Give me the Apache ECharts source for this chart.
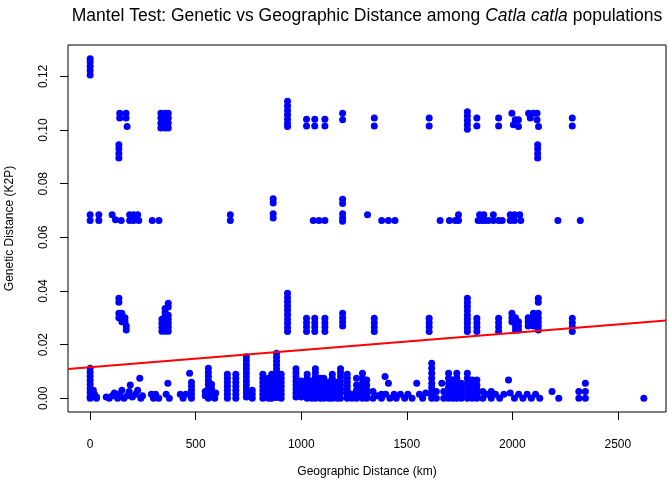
<!DOCTYPE html>
<html>
<head>
<meta charset="utf-8">
<script src="https://cdn.jsdelivr.net/npm/echarts@6/dist/echarts.min.js"></script>
<style>
  html, body { margin: 0; padding: 0; background: #fff; }
  #chart { width: 669px; height: 484px; }
</style>
</head>
<body>
<div id="chart"></div>
<script>
// pairwise distances: [geographic km, genetic K2P]
const topBand = [
  [0, 0.1205], [0, 0.1222], [0, 0.1238], [0, 0.1254], [0, 0.1266]
];

const band10 = [
  [140, 0.1063], [140, 0.1045], [170, 0.1063], [170, 0.1045], [175, 0.1013],
  [136, 0.0945], [136, 0.093], [136, 0.0913], [136, 0.0896],
  [335, 0.1063], [335, 0.1045], [335, 0.1025], [335, 0.1008],
  [355, 0.1063], [355, 0.1045], [355, 0.1025], [355, 0.1008],
  [370, 0.1063], [370, 0.1045], [370, 0.1025], [370, 0.1008],
  [935, 0.1107], [935, 0.109], [935, 0.1073], [935, 0.1057], [935, 0.104], [935, 0.1024], [935, 0.1013],
  [1025, 0.104], [1025, 0.1015], [1064, 0.104], [1064, 0.1015], [1112, 0.104], [1112, 0.1015],
  [1196, 0.1063], [1196, 0.1038],
  [1346, 0.1045], [1346, 0.1015],
  [1606, 0.1045], [1606, 0.1015],
  [1787, 0.1068], [1787, 0.1052], [1787, 0.1036], [1787, 0.102], [1787, 0.1003],
  [1832, 0.1045], [1832, 0.1015],
  [1935, 0.1045], [1935, 0.1015],
  [1998, 0.1063], [2014, 0.1038], [2029, 0.1038], [2005, 0.102], [2029, 0.1013],
  [2077, 0.1063], [2085, 0.1045], [2100, 0.1063], [2117, 0.1063], [2117, 0.1038], [2124, 0.1013],
  [2120, 0.0945], [2120, 0.093], [2120, 0.0913], [2120, 0.0896],
  [2284, 0.1045], [2284, 0.1015]
];

const band07 = [
  [0, 0.0684], [0, 0.0663], [41, 0.0684], [41, 0.0663],
  [104, 0.0684], [120, 0.0666], [147, 0.0663],
  [187, 0.0684], [187, 0.0663], [205, 0.0684], [205, 0.0663], [225, 0.0684], [230, 0.0663],
  [294, 0.0663], [326, 0.0663],
  [664, 0.0684], [664, 0.0663],
  [867, 0.0744], [867, 0.0728], [867, 0.0688], [867, 0.0672],
  [1057, 0.0663], [1084, 0.0663], [1112, 0.0663],
  [1196, 0.0742], [1196, 0.0726], [1196, 0.0688], [1196, 0.0672], [1196, 0.066],
  [1314, 0.0684],
  [1381, 0.0663], [1413, 0.0663], [1444, 0.0663],
  [1658, 0.0663],
  [1702, 0.0663], [1730, 0.0663], [1745, 0.0684], [1745, 0.0663],
  [1838, 0.0663], [1845, 0.0684], [1855, 0.0663], [1865, 0.0684], [1870, 0.0663], [1886, 0.0663],
  [1910, 0.0684], [1910, 0.0663], [1935, 0.0663], [1952, 0.0663],
  [1990, 0.0684], [1990, 0.0663], [2010, 0.0684], [2010, 0.0663], [2035, 0.0684], [2040, 0.0663],
  [2216, 0.0663], [2322, 0.0663]
];

const band03 = [
  [136, 0.0373], [136, 0.0358], [136, 0.0317], [136, 0.030], [150, 0.0317], [150, 0.030], [150, 0.0285],
  [165, 0.030], [165, 0.0285], [171, 0.027], [171, 0.0255],
  [340, 0.0295], [340, 0.028], [340, 0.0265], [340, 0.025],
  [355, 0.0335], [355, 0.032], [355, 0.0305], [355, 0.029], [355, 0.0275], [355, 0.026], [355, 0.025],
  [370, 0.0354], [370, 0.034], [370, 0.031], [370, 0.0295], [370, 0.028], [370, 0.0265], [370, 0.025],
  [935, 0.0392], [935, 0.0376], [935, 0.036], [935, 0.0344], [935, 0.0328], [935, 0.0312],
  [935, 0.0296], [935, 0.028], [935, 0.0264], [935, 0.0249],
  [1025, 0.0298], [1025, 0.0282], [1025, 0.0266], [1025, 0.0249],
  [1064, 0.0298], [1064, 0.0282], [1064, 0.0266], [1064, 0.0249],
  [1112, 0.0298], [1112, 0.0282], [1112, 0.0266], [1112, 0.0249],
  [1196, 0.0317], [1196, 0.030], [1196, 0.0285], [1196, 0.027],
  [1346, 0.0298], [1346, 0.0282], [1346, 0.0266], [1346, 0.0249],
  [1606, 0.0298], [1606, 0.0282], [1606, 0.0266], [1606, 0.0249],
  [1787, 0.0373], [1787, 0.0357], [1787, 0.0342], [1787, 0.0326], [1787, 0.031],
  [1787, 0.0295], [1787, 0.028], [1787, 0.0264], [1787, 0.0249],
  [1832, 0.0298], [1832, 0.0282], [1832, 0.0266], [1832, 0.0249],
  [1935, 0.0298], [1935, 0.0282], [1935, 0.0266], [1935, 0.0249],
  [1998, 0.0317], [1998, 0.030], [1998, 0.0285], [2015, 0.030], [2015, 0.0285], [2015, 0.027], [2015, 0.0255],
  [2029, 0.0285], [2029, 0.027], [2029, 0.0255],
  [2075, 0.030], [2075, 0.0285], [2075, 0.027], [2100, 0.0317], [2100, 0.030], [2100, 0.0285], [2100, 0.027],
  [2123, 0.0373], [2123, 0.0358], [2123, 0.0317], [2123, 0.030], [2123, 0.0285], [2123, 0.027], [2123, 0.0255],
  [2284, 0.0298], [2284, 0.0282], [2284, 0.0266], [2284, 0.0249]
];

const band00 = [
  [0, 0.0112], [0, 0.0097], [0, 0.0082], [0, 0.0067], [0, 0.0052], [0, 0.0037], [0, 0.0022], [0, 0.0007], [0, 0],
  [15, 0.003], [20, 0.0015], [30, 0.0005], [30, 0],
  [76, 0.0005], [90, 0], [105, 0.001], [115, 0.002], [130, 0], [140, 0.0015], [150, 0.003], [160, 0],
  [175, 0.001], [185, 0.0025], [190, 0.005], [200, 0.0005], [215, 0.0015], [225, 0.003], [235, 0.0075],
  [240, 0], [248, 0.001],
  [290, 0.0015], [300, 0], [310, 0.0015], [325, 0], [368, 0.0056], [360, 0.0015], [375, 0],
  [427, 0.0015], [440, 0], [453, 0.0015], [471, 0.0093],
  [480, 0.006], [480, 0.0045], [480, 0.003], [480, 0.0015], [480, 0],
  [545, 0.001], [545, 0.0025],
  [560, 0.0112], [560, 0.0097], [560, 0.0082], [560, 0.0067], [560, 0.0052], [560, 0.0037], [560, 0.0022], [560, 0],
  [575, 0.0052], [575, 0.0037], [580, 0.0015], [595, 0.002], [590, 0],
  [650, 0.009], [650, 0.0075], [650, 0.006], [650, 0.0045], [650, 0.003], [650, 0.0015], [650, 0],
  [690, 0.009], [690, 0.0075], [690, 0.006], [690, 0.0045], [690, 0.003], [690, 0.0015], [690, 0],
  [740, 0.0155], [740, 0.014], [740, 0.0125], [740, 0.011], [740, 0.0095], [740, 0.008],
  [740, 0.0065], [740, 0.005], [740, 0.0035], [740, 0.002], [740, 0.0005],
  [768, 0.003], [768, 0.0015], [768, 0],
  [818, 0.009], [818, 0.0075], [818, 0.006], [818, 0.0045], [818, 0.003], [818, 0.0015], [818, 0],
  [845, 0.0075], [845, 0.006], [845, 0.0045], [845, 0.003], [845, 0.0015], [845, 0],
  [860, 0.009], [860, 0.0075], [860, 0.006], [860, 0.0045], [860, 0.003], [860, 0.0015], [860, 0],
  [883, 0.0168], [883, 0.0153], [883, 0.0138], [883, 0.0123], [883, 0.0108], [883, 0.0093],
  [883, 0.0078], [883, 0.0063], [883, 0.0048], [883, 0.0033], [883, 0.0018], [883, 0.0003],
  [905, 0.009], [905, 0.0075], [905, 0.006], [905, 0.0045], [905, 0.003], [905, 0.0015], [905, 0],
  [975, 0.011], [975, 0.0095], [975, 0.008], [975, 0.0065], [975, 0.005], [975, 0.0035], [975, 0.002], [975, 0.0005],
  [1000, 0.0065], [1000, 0.005], [1000, 0.0035], [1000, 0.002], [1000, 0.0005],
  [1028, 0.009], [1028, 0.0075], [1028, 0.006], [1028, 0.0045], [1028, 0.003], [1028, 0.0015], [1028, 0],
  [1050, 0.0065], [1050, 0.005], [1050, 0.0035], [1050, 0.002], [1050, 0],
  [1067, 0.011], [1067, 0.0095], [1067, 0.008], [1067, 0.0065], [1067, 0.005], [1067, 0.0035], [1067, 0.002], [1067, 0],
  [1090, 0.0075], [1090, 0.006], [1090, 0.0045], [1090, 0.003], [1090, 0.0015], [1090, 0],
  [1107, 0.0075], [1107, 0.006], [1107, 0.0045], [1107, 0.003], [1107, 0.0015], [1107, 0],
  [1130, 0.006], [1130, 0.0045], [1130, 0.003], [1130, 0.0015], [1130, 0],
  [1147, 0.009], [1147, 0.0075], [1147, 0.006], [1147, 0.0045], [1147, 0.003], [1147, 0.0015], [1147, 0],
  [1170, 0.006], [1170, 0.0045], [1170, 0.003], [1170, 0.0015], [1170, 0],
  [1186, 0.011], [1186, 0.0095], [1186, 0.008], [1186, 0.0065], [1186, 0.005], [1186, 0.0035], [1186, 0.002], [1186, 0],
  [1218, 0.009], [1218, 0.0075], [1218, 0.006], [1218, 0.0045], [1218, 0.003], [1218, 0.0015], [1218, 0],
  [1240, 0.0015], [1240, 0],
  [1262, 0.0075], [1262, 0.005], [1262, 0.003], [1262, 0.0015], [1262, 0],
  [1290, 0.0093], [1290, 0.0075], [1290, 0.0056], [1290, 0.004], [1290, 0.0025], [1290, 0.001], [1290, 0],
  [1310, 0.0068], [1310, 0.005], [1310, 0.0032], [1310, 0.0015], [1310, 0],
  [1340, 0.0025], [1340, 0], [1360, 0.001], [1380, 0.0015], [1380, 0], [1397, 0.0081], [1400, 0.0015],
  [1413, 0.0056], [1420, 0], [1440, 0.0015], [1450, 0],
  [1470, 0.0015], [1490, 0], [1505, 0.0015], [1525, 0],
  [1547, 0.0056], [1560, 0.0015], [1575, 0], [1590, 0.002],
  [1618, 0.0131], [1618, 0.0112], [1618, 0.0093], [1618, 0.0075], [1618, 0.0056], [1618, 0.004],
  [1618, 0.0025], [1618, 0.001], [1618, 0],
  [1640, 0.0025], [1640, 0], [1666, 0.0056], [1675, 0.0025], [1675, 0],
  [1698, 0.0093], [1698, 0.0075], [1698, 0.0056], [1698, 0.004], [1698, 0.0025], [1698, 0.001], [1698, 0],
  [1718, 0.0068], [1718, 0.005], [1718, 0.0032], [1718, 0.0015], [1718, 0],
  [1737, 0.0093], [1737, 0.0075], [1737, 0.0056], [1737, 0.004], [1737, 0.0025], [1737, 0.001], [1737, 0],
  [1758, 0.0056], [1758, 0.004], [1758, 0.0025], [1758, 0.001], [1758, 0],
  [1787, 0.0093], [1787, 0.0075], [1787, 0.0056], [1787, 0.004], [1787, 0.0025], [1787, 0.001], [1787, 0],
  [1810, 0.0068], [1810, 0.005], [1810, 0.0032], [1810, 0.0015], [1810, 0],
  [1832, 0.0068], [1832, 0.005], [1832, 0.0032], [1832, 0.0015], [1832, 0],
  [1860, 0.0025], [1860, 0], [1880, 0.0015], [1900, 0.0025], [1900, 0], [1920, 0.0015], [1940, 0],
  [1960, 0.0015], [1982, 0.0068], [1990, 0.002], [2010, 0], [2030, 0.0015], [2050, 0],
  [2070, 0.0015], [2090, 0], [2110, 0.0015], [2130, 0],
  [2188, 0.0025], [2220, 0], [2315, 0.0025], [2315, 0], [2346, 0.0056], [2346, 0.0025], [2346, 0],
  [2623, 0]
];

// axis ticks
const xTicks = [0, 500, 1000, 1500, 2000, 2500];
const yTicks = [0, 0.02, 0.04, 0.06, 0.08, 0.10, 0.12];

// fitted line (lm)
const fitIntercept = 0.01157;
const fitSlope = 0.00000639;

const X_MIN = -105, X_MAX = 2728;
const Y_MIN = -0.0051, Y_MAX = 0.1317;

const points = [].concat(topBand, band10, band07, band03, band00);
const fitLine = [X_MIN, X_MAX].map(x => [x, fitIntercept + fitSlope * x]);

const FONT = 'Liberation Sans, Arial, sans-serif';
const chart = echarts.init(document.getElementById('chart'), null, { renderer: 'canvas' });

chart.setOption({
  animation: false,
  backgroundColor: '#fff',
  title: {
    text: '{n|Mantel Test: Genetic vs Geographic Distance among }{i|Catla catla}{n| populations}',
    left: 362,
    textAlign: 'center',
    top: 2,
    textStyle: {
      fontFamily: FONT,
      fontSize: 17.5,
      fontWeight: 'normal',
      rich: {
        n: { fontFamily: FONT, fontSize: 17.5, color: '#000' },
        i: { fontFamily: FONT, fontSize: 17.5, fontStyle: 'italic', color: '#000' }
      }
    }
  },
  grid: {
    left: 68, right: 3, top: 45, bottom: 72,
    outerBoundsMode: 'none',
    containLabel: false,
    show: true,
    borderColor: '#000',
    borderWidth: 1,
    backgroundColor: 'transparent'
  },
  xAxis: {
    type: 'value',
    min: X_MIN,
    max: X_MAX,
    name: 'Geographic Distance (km)',
    nameLocation: 'middle',
    nameGap: 54,
    nameTextStyle: { fontFamily: FONT, fontSize: 12, color: '#000' },
    axisLine: { show: false, onZero: false },
    splitLine: { show: false },
    axisTick: { show: true, length: 8, customValues: xTicks, lineStyle: { color: '#000' } },
    axisLabel: {
      customValues: xTicks,
      margin: 27,
      fontFamily: FONT, fontSize: 12, color: '#000',
      formatter: v => String(v)
    }
  },
  yAxis: {
    type: 'value',
    min: Y_MIN,
    max: Y_MAX,
    name: 'Genetic Distance (K2P)',
    nameLocation: 'middle',
    nameGap: 52,
    nameRotate: 90,
    nameTextStyle: { fontFamily: FONT, fontSize: 12, color: '#000' },
    axisLine: { show: false, onZero: false },
    splitLine: { show: false },
    axisTick: { show: true, length: 8, customValues: yTicks, lineStyle: { color: '#000' } },
    axisLabel: {
      customValues: yTicks,
      rotate: 90,
      margin: 18,
      fontFamily: FONT, fontSize: 12, color: '#000',
      formatter: v => v.toFixed(2)
    }
  },
  series: [
    {
      type: 'scatter',
      data: points,
      symbol: 'circle',
      symbolSize: 7,
      itemStyle: { color: '#0000ff', opacity: 1 },
      emphasis: { disabled: true }
    },
    {
      type: 'line',
      data: fitLine,
      showSymbol: false,
      symbol: 'none',
      lineStyle: { color: '#ff0000', width: 2 },
      clip: true
    }
  ]
});
</script>
</body>
</html>
